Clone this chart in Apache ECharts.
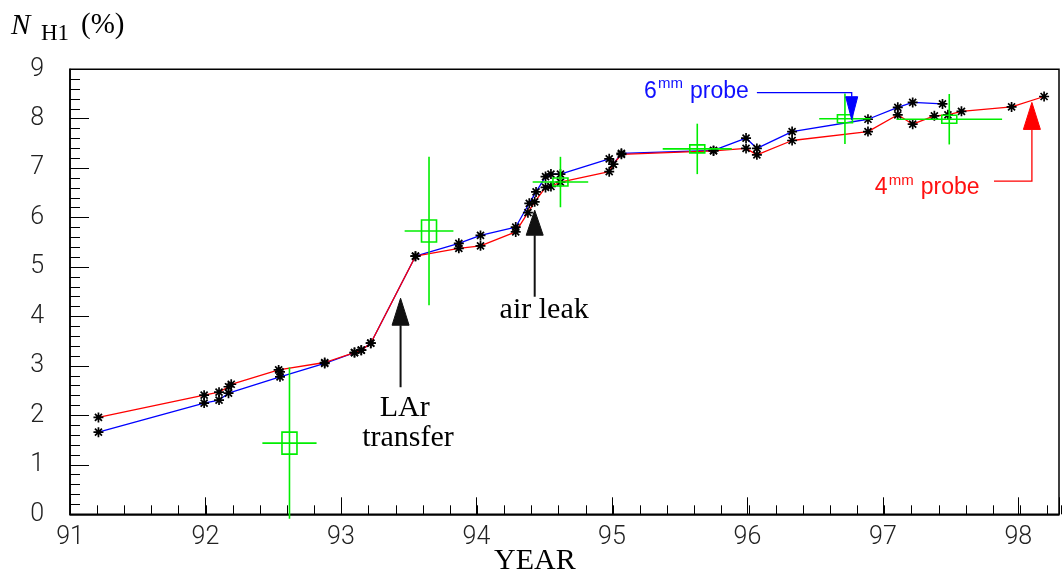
<!DOCTYPE html>
<html>
<head>
<meta charset="utf-8">
<script src="https://cdn.jsdelivr.net/npm/echarts@6/dist/echarts.min.js"></script>
<style>
  html, body { margin: 0; padding: 0; background: #fff; }
  #chart { width: 1062px; height: 575px; }
</style>
</head>
<body>
<div id="chart"></div>
<script>
// 6 mm probe readings (blue)
const probe6Years  = [91.21, 91.99, 92.10, 92.17, 92.55, 92.88, 93.10, 93.15, 93.22, 93.55, 93.87, 94.03, 94.29, 94.39, 94.44, 94.51, 94.55, 94.62, 94.98, 95.01, 95.07, 95.75, 95.99, 96.07, 96.33, 96.89, 97.11, 97.22, 97.44];
const probe6Values = [1.66, 2.25, 2.31, 2.45, 2.78, 3.05, 3.27, 3.32, 3.46, 5.22, 5.48, 5.64, 5.81, 6.29, 6.52, 6.83, 6.88, 6.88, 7.19, 7.08, 7.30, 7.36, 7.61, 7.40, 7.74, 7.99, 8.23, 8.33, 8.30];

// 4 mm probe readings (red)
const probe4Years  = [91.21, 91.99, 92.10, 92.17, 92.19, 92.54, 92.55, 92.88, 93.10, 93.15, 93.22, 93.55, 93.87, 94.03, 94.29, 94.38, 94.43, 94.51, 94.55, 94.62, 94.98, 95.01, 95.07, 95.75, 95.99, 96.07, 96.33, 96.89, 97.11, 97.22, 97.38, 97.48, 97.58, 97.95, 98.19];
const probe4Values = [1.96, 2.41, 2.47, 2.58, 2.63, 2.92, 2.88, 3.07, 3.27, 3.32, 3.46, 5.22, 5.38, 5.43, 5.71, 6.10, 6.32, 6.61, 6.63, 6.72, 6.93, 7.08, 7.28, 7.35, 7.40, 7.27, 7.56, 7.74, 8.08, 7.89, 8.06, 8.08, 8.15, 8.24, 8.45];

// Independent measurements with their errors (green)
const measYears    = [92.62, 93.65, 94.62, 95.63, 96.72, 97.49];
const measValues   = [1.44, 5.73, 6.72, 7.39, 8.00, 7.99];
const measYearErr  = [0.20, 0.18, 0.205, 0.255, 0.19, 0.39];
const measValueErr = [1.53, 1.50, 0.51, 0.51, 0.51, 0.51];

// Axis ranges and tick labels
const yearMin = 91, yearMax = 98.3;
const yearTicks = [91, 92, 93, 94, 95, 96, 97, 98];
const valueTicks = [0, 1, 2, 3, 4, 5, 6, 7, 8, 9];

// Callout arrows: polyline in data coordinates, the last point is the tip
const larArrow     = [[93.44, 2.57], [93.44, 4.37]];
const airLeakArrow = [[94.43, 4.40], [94.43, 6.15]];
const probe6Arrow  = [[96.07, 8.53], [96.77, 8.53], [96.77, 7.98]];
const probe4Arrow  = [[97.82, 6.74], [98.10, 6.74], [98.10, 8.33]];

// Serif callout words, anchored at their centres
const calloutTexts  = ['LAr', 'transfer', 'air leak'];
const calloutPoints = [[93.47, 2.14], [93.495, 1.535], [94.50, 4.12]];

// Probe labels: base digit + superscript unit + word
const probeLabelDigits = ['6', '4'];
const probeLabelPoints = [[95.237, 8.554], [96.94, 6.604]];

const arrows = [larArrow, airLeakArrow, probe6Arrow, probe4Arrow];
const arrowLook = [
  { color: '#111', width: 2, headLen: 27, headHalf: 8.5 },
  { color: '#111', width: 2, headLen: 25, headHalf: 8.5 },
  { color: '#0000ff', width: 1.3, headLen: 23, headHalf: 6 },
  { color: '#ff0000', width: 1.3, headLen: 27, headHalf: 8.5 }
];
const probeColors = ['#1010ff', '#ff1010'];

const asterisk = 'path://M0,5L10,5M5,0L5,10M1.5,1.5L8.5,8.5M8.5,1.5L1.5,8.5';
const tickFont = 'Roboto';
const serif = '"Liberation Serif", "DejaVu Serif", serif';
const sans = '"Liberation Sans", Arial, sans-serif';

function zip(xs, ys) { return xs.map((x, i) => [x, ys[i]]); }

function lineSeries(name, years, values, color) {
  return {
    name, type: 'line', xAxisIndex: 0, yAxisIndex: 0,
    data: zip(years, values),
    symbol: asterisk, symbolSize: 10, showSymbol: true, showAllSymbol: true,
    lineStyle: { color, width: 1.3 },
    itemStyle: { color: '#000', borderColor: '#000', borderWidth: 1.7 },
    emphasis: { disabled: true }, z: 3
  };
}

function renderErrorBar(params, api) {
  const x = api.value(0), y = api.value(1), ex = api.value(2), ey = api.value(3);
  const c = api.coord([x, y]);
  const l = api.coord([x - ex, y]), r = api.coord([x + ex, y]);
  const t = api.coord([x, y + ey]), b = api.coord([x, y - ey]);
  const boxW = 15, boxH = ey > 1 ? 22 : 8;
  const st = { stroke: '#00ee00', lineWidth: 1.6, fill: null };
  return {
    type: 'group',
    children: [
      { type: 'line', shape: { x1: l[0], y1: l[1], x2: r[0], y2: r[1] }, style: st },
      { type: 'line', shape: { x1: t[0], y1: t[1], x2: b[0], y2: b[1] }, style: st },
      { type: 'rect', shape: { x: c[0] - boxW / 2, y: c[1] - boxH / 2, width: boxW, height: boxH }, style: st }
    ]
  };
}

function renderArrow(params, api) {
  const i = params.dataIndex;
  const look = arrowLook[i];
  const pts = arrows[i].map(p => api.coord(p));
  const tip = pts[pts.length - 1], prev = pts[pts.length - 2];
  const dx = tip[0] - prev[0], dy = tip[1] - prev[1];
  const len = Math.hypot(dx, dy);
  const ux = dx / len, uy = dy / len;
  const base = [tip[0] - ux * look.headLen, tip[1] - uy * look.headLen];
  const shaft = pts.slice(0, -1).concat([base]);
  const px = -uy * look.headHalf, py = ux * look.headHalf;
  return {
    type: 'group',
    children: [
      { type: 'polyline', shape: { points: shaft }, style: { stroke: look.color, lineWidth: look.width, fill: null } },
      { type: 'polygon', shape: { points: [tip, [base[0] + px, base[1] + py], [base[0] - px, base[1] - py]] },
        style: { fill: look.color, stroke: look.color, lineWidth: 1 } }
    ]
  };
}

function renderCallout(params, api) {
  const p = api.coord([api.value(0), api.value(1)]);
  return {
    type: 'text',
    style: {
      text: calloutTexts[params.dataIndex], x: p[0], y: p[1],
      fill: '#000', fontFamily: serif, fontSize: 30,
      align: 'center', verticalAlign: 'middle'
    }
  };
}

function renderProbeLabel(params, api) {
  const i = params.dataIndex;
  const p = api.coord([api.value(0), api.value(1)]);
  const fill = probeColors[i];
  const t = (text, dx, dy, size) => ({
    type: 'text',
    style: { text, x: p[0] + dx, y: p[1] + dy, fill, fontFamily: sans, fontSize: size, align: 'left', verticalAlign: 'middle' }
  });
  return {
    type: 'group',
    children: [
      t(probeLabelDigits[i], 0, 0, 23),
      t('mm', 14, -7, 15),
      t('probe', 46, 0, 23)
    ]
  };
}

const chart = echarts.init(document.getElementById('chart'), null, { renderer: 'canvas' });

const gridBox = { left: 70, right: 1, top: 69.3, bottom: 60.7 };

chart.setOption({
  animation: false,
  backgroundColor: '#fff',
  grid: [
    Object.assign({ show: true, borderColor: '#000', borderWidth: 1.5, backgroundColor: 'transparent' }, gridBox),
    Object.assign({ show: false }, gridBox)
  ],
  xAxis: [
    {
      type: 'value', gridIndex: 0, min: yearMin, max: yearMax, interval: 1,
      axisLine: { show: true, lineStyle: { color: '#000', width: 1.5 } },
      axisTick: { show: true, inside: true, length: 17, lineStyle: { color: '#000', width: 1 } },
      minorTick: { show: false },
      splitLine: { show: false },
      axisLabel: {
        margin: 11, color: '#222', fontFamily: tickFont, fontWeight: 300, fontSize: 25,
        formatter: v => (yearTicks.indexOf(Math.round(v * 1000) / 1000) >= 0 ? String(Math.round(v)) : '')
      }
    },
    {
      type: 'value', gridIndex: 1, min: yearMin, max: yearMax, interval: 0.2,
      axisLine: { show: false },
      axisTick: { show: true, inside: true, length: 9, lineStyle: { color: '#000', width: 1 } },
      axisLabel: { show: false },
      splitLine: { show: false }
    }
  ],
  yAxis: [
    {
      type: 'value', gridIndex: 0, min: 0, max: 9, interval: 1,
      axisLine: { show: true, lineStyle: { color: '#000', width: 1.5 } },
      axisTick: { show: true, inside: true, length: 19, lineStyle: { color: '#000', width: 1 } },
      minorTick: { show: true, splitNumber: 5, length: 10, lineStyle: { color: '#000', width: 1 } },
      splitLine: { show: false },
      axisLabel: {
        margin: 26, color: '#222', fontFamily: tickFont, fontWeight: 300, fontSize: 25,
        formatter: v => (valueTicks.indexOf(Math.round(v)) >= 0 && Math.abs(v - Math.round(v)) < 1e-6 ? String(Math.round(v)) : '')
      }
    },
    { type: 'value', gridIndex: 1, min: 0, max: 9, show: false }
  ],
  series: [
    lineSeries('6mm probe', probe6Years, probe6Values, '#0000ff'),
    lineSeries('4mm probe', probe4Years, probe4Values, '#ff0000'),
    {
      name: 'measurements', type: 'custom', xAxisIndex: 0, yAxisIndex: 0, clip: false, z: 5,
      renderItem: renderErrorBar,
      encode: { x: 0, y: 1 },
      data: measYears.map((x, i) => [x, measValues[i], measYearErr[i], measValueErr[i]])
    },
    {
      name: 'arrows', type: 'custom', xAxisIndex: 0, yAxisIndex: 0, clip: false, z: 6,
      renderItem: renderArrow,
      encode: { x: 0, y: 1 },
      data: arrows.map(a => [a[a.length - 1][0], a[a.length - 1][1]])
    },
    {
      name: 'callouts', type: 'custom', xAxisIndex: 0, yAxisIndex: 0, clip: false, z: 6,
      renderItem: renderCallout,
      encode: { x: 0, y: 1 },
      data: calloutPoints
    },
    {
      name: 'probe labels', type: 'custom', xAxisIndex: 0, yAxisIndex: 0, clip: false, z: 6,
      renderItem: renderProbeLabel,
      encode: { x: 0, y: 1 },
      data: probeLabelPoints
    }
  ],
  graphic: [
    { type: 'text', left: 11, top: 12, style: { text: 'N', fontFamily: serif, fontStyle: 'italic', fontSize: 29, fill: '#000' } },
    { type: 'text', left: 41, top: 22, style: { text: 'H1', fontFamily: serif, fontSize: 23, fill: '#000' } },
    { type: 'text', left: 81, top: 11, style: { text: '(%)', fontFamily: serif, fontSize: 29, fill: '#000' } },
    { type: 'text', left: 494, top: 546, style: { text: 'YEAR', fontFamily: serif, fontSize: 30, fill: '#000' } }
  ]
});
</script>
</body>
</html>
